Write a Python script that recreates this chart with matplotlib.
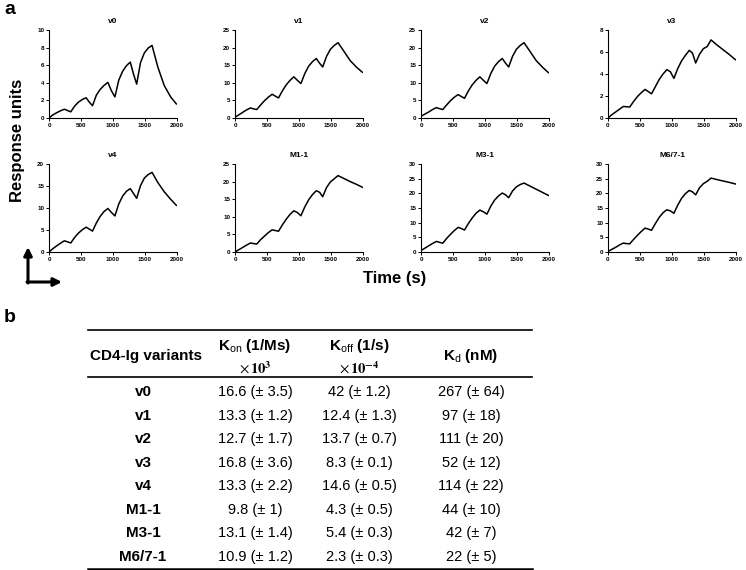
import numpy as np
import matplotlib
matplotlib.use('Agg')
import matplotlib.pyplot as plt
from matplotlib.patches import FancyArrowPatch
from matplotlib.lines import Line2D

plt.rcParams['font.family'] = ['Liberation Sans', 'DejaVu Sans']
plt.rcParams['mathtext.fontset'] = 'custom'
plt.rcParams['mathtext.rm'] = 'Liberation Sans'
plt.rcParams['mathtext.bf'] = 'Liberation Sans:bold'

# sensorgram data (time in s, response units)
t = [0, 60, 120, 180, 240, 290, 340, 400, 460, 520, 580, 630, 680, 740, 800, 860,
     920, 975, 1030, 1090, 1150, 1210, 1270, 1320, 1370, 1430, 1490, 1550, 1610,
     1700, 1800, 1900, 1990]

ru_v0 = [0, 0.35, 0.6, 0.82, 1.0, 0.85, 0.7, 1.35, 1.8, 2.1, 2.3, 1.8, 1.4, 2.6, 3.25, 3.7,
         4.05, 3.1, 2.4, 4.3, 5.3, 5.95, 6.35, 5.0, 3.85, 6.3, 7.4, 7.95, 8.25,
         5.8, 3.7, 2.4, 1.6]
ru_v1 = [0.2, 0.9, 1.6, 2.3, 2.85, 2.6, 2.4, 3.7, 4.9, 5.9, 6.75, 6.2, 5.7, 7.7, 9.4, 10.7,
         11.7, 10.7, 9.8, 12.6, 14.7, 16.0, 16.9, 15.6, 14.5, 17.5, 19.5, 20.6, 21.4,
         19.0, 16.3, 14.4, 13.0]
ru_v2 = [0.5, 1.1, 1.7, 2.4, 2.95, 2.65, 2.4, 3.7, 4.9, 5.9, 6.65, 6.1, 5.6, 7.7, 9.4, 10.7,
         11.7, 10.7, 9.8, 12.6, 14.7, 16.0, 16.9, 15.6, 14.5, 17.5, 19.5, 20.6, 21.4,
         19.0, 16.3, 14.4, 12.9]
ru_v3 = [0, 0.3, 0.55, 0.8, 1.05, 1.02, 1.0, 1.5, 1.95, 2.3, 2.6, 2.4, 2.2, 2.85, 3.5, 4.0,
         4.4, 4.2, 3.6, 4.5, 5.2, 5.7, 6.15, 5.9, 5.0, 5.8, 6.3, 6.5, 7.1,
         6.65, 6.2, 5.75, 5.3]
ru_v4 = [0, 0.75, 1.4, 2.0, 2.55, 2.3, 2.05, 3.3, 4.3, 5.05, 5.65, 5.2, 4.75, 6.6, 8.1, 9.2,
         9.9, 9.0, 8.2, 10.9, 12.7, 13.8, 14.4, 13.3, 12.2, 15.1, 16.8, 17.6, 18.1,
         15.8, 13.7, 12.0, 10.6]
ru_m11 = [0, 0.65, 1.3, 1.95, 2.55, 2.4, 2.25, 3.5, 4.5, 5.5, 6.3, 6.1, 5.9, 7.7, 9.3, 10.7,
          11.7, 11.2, 10.3, 12.8, 14.8, 16.3, 17.4, 17.0, 15.7, 18.3, 19.9, 20.8, 21.7,
          20.9, 20.0, 19.2, 18.4]
ru_m31 = [0.5, 1.3, 2.1, 2.9, 3.6, 3.3, 3.0, 4.6, 6.0, 7.3, 8.4, 8.0, 7.5, 9.7, 11.6, 13.2,
          14.3, 13.7, 12.9, 15.6, 17.7, 19.1, 20.1, 19.5, 18.5, 20.8, 22.2, 23.0, 23.5,
          22.5, 21.4, 20.3, 19.3]
ru_m671 = [0.2, 0.9, 1.6, 2.4, 3.05, 2.85, 2.8, 4.3, 5.7, 7.0, 8.15, 7.8, 7.4, 9.7, 11.8, 13.4,
           14.4, 14.0, 13.2, 16.0, 18.3, 19.9, 21.0, 20.5, 19.5, 21.9, 23.3, 24.1, 25.2,
           24.7, 24.2, 23.7, 23.2]

names = ['v0', 'v1', 'v2', 'v3', 'v4', 'M1-1', 'M3-1', 'M6/7-1']
curves = [ru_v0, ru_v1, ru_v2, ru_v3, ru_v4, ru_m11, ru_m31, ru_m671]
ymax = [10, 25, 25, 8, 20, 25, 30, 30]
ystep = [2, 5, 5, 2, 5, 5, 5, 5]

# table data
variants = ['v0', 'v1', 'v2', 'v3', 'v4', 'M1-1', 'M3-1', 'M6/7-1']
kon = ['16.6 (± 3.5)', '13.3 (± 1.2)', '12.7 (± 1.7)', '16.8 (± 3.6)',
       '13.3 (± 2.2)', '9.8 (± 1)', '13.1 (± 1.4)', '10.9 (± 1.2)']
koff = ['42 (± 1.2)', '12.4 (± 1.3)', '13.7 (± 0.7)', '8.3 (± 0.1)',
        '14.6 (± 0.5)', '4.3 (± 0.5)', '5.4 (± 0.3)', '2.3 (± 0.3)']
kd = ['267 (± 64)', '97 (± 18)', '111 (± 20)', '52 (± 12)',
      '114 (± 22)', '44 (± 10)', '42 (± 7)', '22 (± 5)']

W, H = 746, 570
fig = plt.figure(figsize=(W / 100, H / 100), dpi=100)


def fx(px):
    return px / W


def fy(py):
    return 1 - py / H


lefts = [49, 235, 421, 608]
tops = [30, 164]
for i, (name, y) in enumerate(zip(names, curves)):
    r, c = divmod(i, 4)
    ax = fig.add_axes([fx(lefts[c]), fy(tops[r] + 88), 128 / W, 88 / H])
    ax.plot(t, y, color='k', lw=1.1)
    ax.set_xlim(0, 2000)
    ax.set_ylim(0, ymax[i])
    ax.set_xticks([0, 500, 1000, 1500, 2000])
    ax.set_yticks(np.arange(0, ymax[i] + 0.1, ystep[i]))
    ax.set_title(name, fontsize=6, fontweight='bold', pad=5)
    for s in ['top', 'right']:
        ax.spines[s].set_visible(False)
    for s in ['left', 'bottom']:
        ax.spines[s].set_linewidth(0.8)
    ax.tick_params(labelsize=4.5, length=2, width=0.7, pad=1.5)
    for lab in ax.get_xticklabels() + ax.get_yticklabels():
        lab.set_fontweight('bold')

fig.text(fx(4), fy(9), 'a', fontsize=14, fontweight='bold', va='center', ha='left')
fig.text(fx(4), fy(318), 'b', fontsize=14, fontweight='bold', va='center', ha='left')
fig.text(fx(18), fy(140), 'Response units', fontsize=12, fontweight='bold',
         rotation=90, ha='center', va='center')
fig.text(fx(395), fy(279), 'Time (s)', fontsize=12, fontweight='bold',
         ha='center', va='center')

arr_kw = dict(transform=fig.transFigure, arrowstyle='-|>', mutation_scale=12,
              lw=2.2, color='k', shrinkA=0, shrinkB=0)
fig.add_artist(FancyArrowPatch((fx(28), fy(283)), (fx(28), fy(247)), **arr_kw))
fig.add_artist(FancyArrowPatch((fx(27), fy(282)), (fx(62), fy(282)), **arr_kw))

# table
for yy, lw in [(330, 1.2), (377, 1.2), (568.5, 1.8)]:
    fig.add_artist(Line2D([fx(88), fx(532)], [fy(yy), fy(yy)],
                          transform=fig.transFigure, lw=lw, color='k'))

cx = [146, 255, 359, 471]
hs = 11
vs = 10.5
fig.text(fx(cx[0]), fy(356), 'CD4-Ig variants', fontsize=hs,
         fontweight='bold', ha='center', va='center')
fig.text(fx(cx[1]), fy(346), r'K$_{\mathrm{on}}$ (1/Ms)', fontsize=hs,
         fontweight='bold', ha='center', va='center')
fig.text(fx(cx[2]), fy(346), r'K$_{\mathrm{off}}$ (1/s)', fontsize=hs,
         fontweight='bold', ha='center', va='center')
fig.text(fx(cx[3]), fy(356), r'K$_{\mathrm{d}}$ (nM)', fontsize=hs,
         fontweight='bold', ha='center', va='center')
fig.text(fx(cx[1]), fy(368), r'$\times\,\mathbf{10^{3}}$', fontsize=10.5,
         math_fontfamily='stix', ha='center', va='center')
fig.text(fx(cx[2]), fy(368), r'$\times\,\mathbf{10^{-4}}$', fontsize=10.5,
         math_fontfamily='stix', ha='center', va='center')

for k in range(len(variants)):
    yy = fy(392 + k * 23.57)
    fig.text(fx(cx[0] - 3), yy, variants[k], fontsize=hs,
             fontweight='bold', ha='center', va='center')
    fig.text(fx(cx[1]), yy, kon[k], fontsize=vs, ha='center', va='center')
    fig.text(fx(cx[2]), yy, koff[k], fontsize=vs, ha='center', va='center')
    fig.text(fx(cx[3]), yy, kd[k], fontsize=vs, ha='center', va='center')

fig.savefig('out.png', dpi=100)
